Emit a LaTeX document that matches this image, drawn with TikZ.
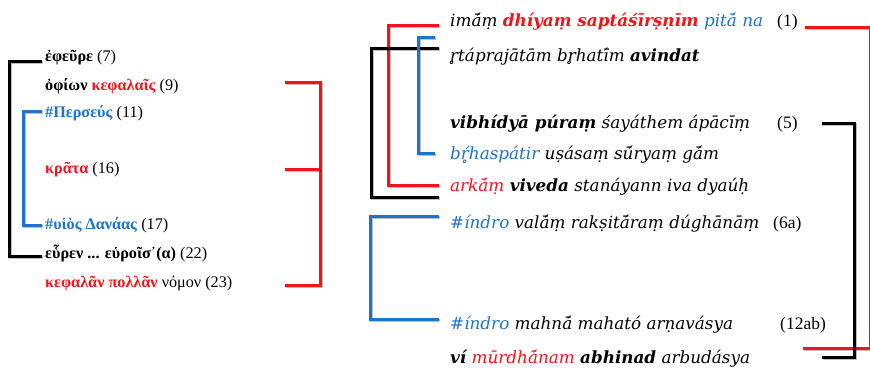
\documentclass[tikz,border=0pt]{standalone}
\usepackage{fontspec}
\setmainfont{DejaVu Serif}
\newfontfamily\grfont{Liberation Serif}
\definecolor{myred}{HTML}{F2141B}
\definecolor{myblue}{HTML}{1C74CC}
\tikzset{
  br/.style={line width=3pt, line join=miter, line cap=butt,
    preaction={draw=black, draw opacity=0.25, line width=3.4pt,
      transform canvas={shift={(1.2pt,-1.6pt)}}}},
  redbr/.style={br, draw=myred},
  bluebr/.style={br, draw=myblue},
  blackbr/.style={br, draw=black},
  gr/.style={anchor=base west, inner sep=0pt, font=\grfont\fontsize{16.2}{19}\selectfont},
  sk/.style={anchor=base west, inner sep=0pt, font=\fontsize{16.8}{19}\selectfont\itshape},
  num/.style={anchor=base west, inner sep=0pt, font=\grfont\fontsize{17.5}{19}\selectfont},
}
\newcommand{\rd}[1]{\textcolor{myred}{#1}}
\newcommand{\bl}[1]{\textcolor{myblue}{#1}}
\begin{document}
\begin{tikzpicture}[x=1pt,y=-1pt]
\useasboundingbox[fill=white] (0,0) rectangle (870,370);
% left Greek block
\node[gr] (g1) at (45,61) {\textbf{ἐφεῦρε} (7)};
\node[gr] (g2) at (45,90) {\textbf{ὀφίων} \rd{\textbf{κεφαλαῖς}} (9)};
\node[gr] (g3) at (45,117) {\bl{\textbf{\#Περσεύς}} (11)};
\node[gr] (g4) at (45,173) {\rd{\textbf{κρᾶτα}} (16)};
\node[gr] (g5) at (45,229) {\bl{\textbf{\#υἱὸς Δανάας}} (17)};
\node[gr] (g6) at (45,258) {\textbf{εὗρεν ... εὑροῖσ᾽(α)} (22)};
\node[gr] (g7) at (45,287) {\rd{\textbf{κεφαλᾶν πολλᾶν}} νόμον (23)};
% left brackets
\draw[blackbr] (42,61) -- (9,61) -- (9,256) -- (42,256);
\draw[bluebr] (42,111) -- (23,111) -- (23,225) -- (42,225);
\draw[redbr] (285,82) -- (320,82) -- (320,285) -- (285,285);
\draw[redbr] (285,169) -- (320,169);
% right Sanskrit block
\node[sk] (s1) at (450,26) {imā́ṃ \rd{\textbf{dhíyaṃ saptáśīrṣṇīm}} \bl{pitā́ na}};
\node[num] (n1) at (777,26) {(1)};
\node[sk] (s2) at (450,61) {r̥táprajātām br̥hatī́m \textbf{avindat}};
\node[sk] (s3) at (450,128) {\textbf{vibhídyā púraṃ} śayáthem ápācīṃ};
\node[num] (n3) at (777,128) {(5)};
\node[sk] (s4) at (450,159) {\bl{bŕ̥haspátir} uṣásaṃ sū́ryaṃ gā́m};
\node[sk] (s5) at (450,191) {\rd{arkā́ṃ} \textbf{viveda} stanáyann iva dyaúḥ};
\node[sk] (s6) at (450,228) {\bl{\#índro} valā́ṃ rakṣitā́raṃ dúghānāṃ};
\node[num] (n6) at (773,228) {(6a)};
\node[sk] (s7) at (450,329) {\bl{\#índro} mahnā́ maható arṇavásya};
\node[num] (n7) at (780,329) {(12ab)};
\node[sk] (s8) at (450,363) {\textbf{ví} \rd{mūrdhā́nam} \textbf{abhinad} arbudásya};
% right-side brackets
\draw[redbr] (439,25) -- (388,25) -- (388,185) -- (439,185);
\draw[blackbr] (439,48) -- (371,48) -- (371,197) -- (439,197);
\draw[bluebr] (435,37) -- (418,37) -- (418,153) -- (435,153);
\draw[bluebr] (439,216) -- (370,216) -- (370,319) -- (439,319);
\draw[redbr] (805,27) -- (870,27) -- (870,348) -- (803,348);
\draw[blackbr] (822,123) -- (854,123) -- (854,357) -- (822,357);
\end{tikzpicture}
\end{document}
